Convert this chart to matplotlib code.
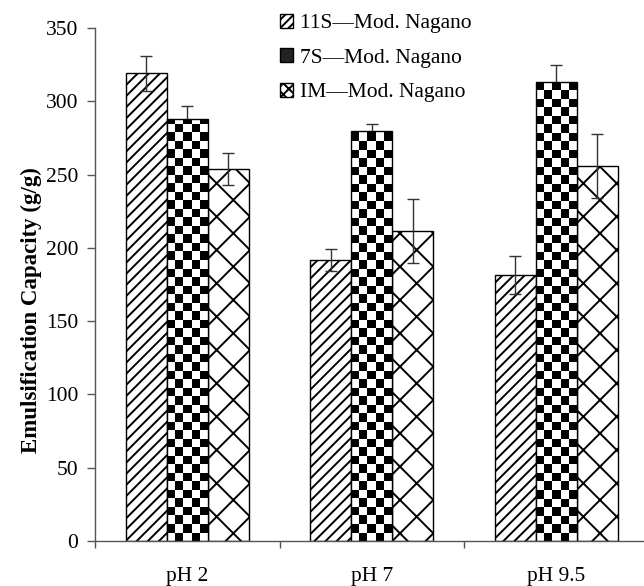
import numpy as np
import matplotlib
matplotlib.use('Agg')
from matplotlib import pyplot as plt
from matplotlib.patches import Patch

groups = ['pH 2', 'pH 7', 'pH 9.5']
labels = ['11S\u2014Mod. Nagano', '7S\u2014Mod. Nagano', 'IM\u2014Mod. Nagano']
ec_11s = [319, 192, 181.5]
err_11s = [12, 7.5, 13]
ec_7s = [288, 280, 313]
err_7s = [9, 4.5, 12]
ec_im = [254, 211.5, 256]
err_im = [11, 21.5, 22]

plt.rcParams['font.family'] = ['Liberation Serif', 'DejaVu Serif']
plt.rcParams['hatch.linewidth'] = 1.4

fig = plt.figure(figsize=[6.44, 5.86], dpi=100)
ax = fig.add_axes([0.1475, 0.0768, 0.851, 0.8754])

x = np.arange(len(groups))
w = 0.222
errkw = dict(ecolor='#333333', elinewidth=1, capsize=4, capthick=1)

b1 = ax.bar(x - w, ec_11s, w, yerr=err_11s, color='white', edgecolor='black',
            linewidth=1, hatch='///', error_kw=errkw, zorder=2)
b2 = ax.bar(x, ec_7s, w, yerr=err_7s, color='white', edgecolor='black',
            linewidth=1, error_kw=errkw, zorder=2)
b3 = ax.bar(x + w, ec_im, w, yerr=err_im, color='white', edgecolor='black',
            linewidth=1, hatch='x', error_kw=errkw, zorder=2)

# checkerboard fill for the 7S bars, clipped to each bar
cell = 8.5  # pixels
px_x = 184.5  # pixels per category
px_y = 1.466  # pixels per unit
for rect in b2:
    x0, w0, h0 = rect.get_x(), rect.get_width(), rect.get_height()
    nc = max(1, int(round(w0 * px_x / cell)))
    nr = max(1, int(np.ceil(h0 * px_y / cell)))
    chk = (np.indices((nr, nc)).sum(axis=0) % 2).astype(float)
    top = nr * cell / px_y
    im = ax.imshow(chk, cmap='gray_r', extent=(x0, x0 + w0, 0, top), origin='lower',
                   aspect='auto', interpolation='nearest', vmin=0, vmax=1, zorder=2.1)
    im.set_clip_path(rect)
    rect.set_zorder(2.2)
    rect.set_facecolor('none')

ax.set_xlim(-0.5, 2.47)
ax.set_ylim(0, 350)
ax.set_yticks(np.arange(0, 351, 50))
ax.set_xticks([-0.5, 0.5, 1.5])
ax.set_xticklabels(['', '', ''])
ax.set_xticks(x, minor=True)
ax.set_xticklabels(groups, minor=True)
ax.tick_params(axis='x', which='major', length=5, direction='out', width=1, color='#555555')
ax.tick_params(axis='x', which='minor', length=0, pad=19, labelsize=15.5)
ax.tick_params(axis='y', length=6, direction='out', width=1, labelsize=15.5, pad=6, color='#555555')

for s in ['top', 'right']:
    ax.spines[s].set_visible(False)
for s in ['left', 'bottom']:
    ax.spines[s].set_color('#555555')
    ax.spines[s].set_linewidth(1)

ax.set_ylabel('Emulsification Capacity (g/g)', fontsize=16.5, fontweight='bold')
ax.yaxis.set_label_coords(-0.097, 0.45)

handles = [Patch(facecolor='white', edgecolor='black', hatch='////'),
           Patch(facecolor='#222222', edgecolor='black'),
           Patch(facecolor='white', edgecolor='black', hatch='xxx')]
fig.legend(handles, labels, loc='upper left', bbox_to_anchor=(0.413, 1.0),
           frameon=False, fontsize=15.5, handlelength=0.6, handleheight=0.6,
           handletextpad=0.35, labelspacing=0.7, borderaxespad=0.25)

fig.savefig('out.png', dpi=100)
